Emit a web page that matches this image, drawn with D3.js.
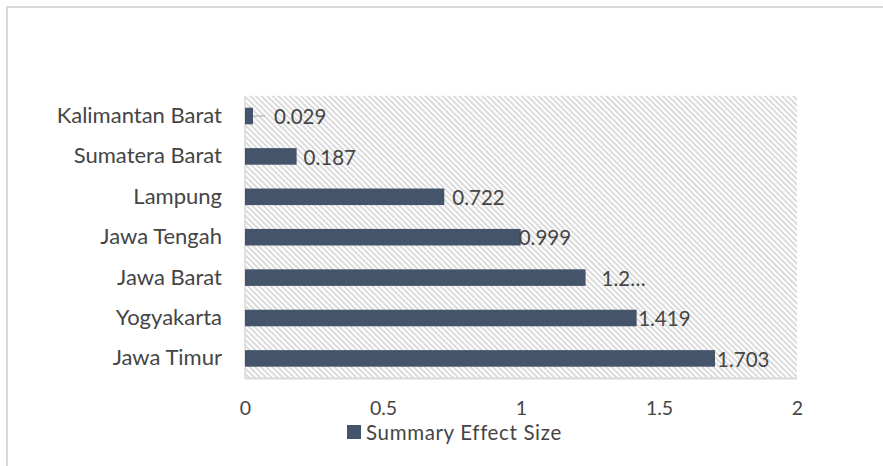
<!DOCTYPE html>
<html>
<head>
<meta charset="utf-8">
<script src="https://cdn.jsdelivr.net/npm/d3@7"></script>
<style>
  html, body { margin: 0; padding: 0; background: #fff; }
  svg { display: block; }
  text { font-family: Lato, "Noto Sans", sans-serif; fill: #454545; }
</style>
</head>
<body>
<svg id="chart" width="883" height="466"></svg>
<script>
// Regions, top to bottom as listed on the chart
const regions = ["Kalimantan Barat", "Sumatera Barat", "Lampung", "Jawa Tengah", "Jawa Barat", "Yogyakarta", "Jawa Timur"];
// Summary effect size per region
const effectSize = [0.029, 0.187, 0.722, 0.999, 1.234, 1.419, 1.703];
// Data label text shown beside each bar
const valueLabels = ["0.029", "0.187", "0.722", "0.999", "1.2…", "1.419", "1.703"];
// Axis ticks
const xTicks = [0, 0.5, 1, 1.5, 2];
const xTickLabels = ["0", "0.5", "1", "1.5", "2"];
const seriesName = "Summary Effect Size";

const svg = d3.select("#chart");
const plot = { left: 245, right: 797, top: 95.8, bottom: 378.6 };
const barColor = "#44546A";
const labelFont = "22px";
const numberFont = "20.5px";
const tickFont = "19.5px";

// Outer chart frame (only top and left edges fall inside the view)
svg.append("path")
  .attr("d", "M7,466 V7 H883")
  .attr("fill", "none")
  .attr("stroke", "#d9d9d9")
  .attr("stroke-width", 2);

const x = d3.scaleLinear().domain([0, 2]).range([plot.left, plot.right]);
const y = d3.scaleBand().domain(regions).range([plot.top, plot.bottom])
  .paddingInner(0.59).paddingOuter(0.295);

// Diagonal hatch fill for the plot area
const defs = svg.append("defs");
const pat = defs.append("pattern")
  .attr("id", "hatch")
  .attr("patternUnits", "userSpaceOnUse")
  .attr("width", 4).attr("height", 4)
  .attr("patternTransform", "rotate(-45)");
pat.append("rect").attr("width", 4).attr("height", 4).attr("fill", "#fff");
pat.append("line")
  .attr("x1", 1).attr("y1", 0).attr("x2", 1).attr("y2", 4)
  .attr("stroke", "#cfcfcf").attr("stroke-width", 1.5);

svg.append("rect")
  .attr("x", plot.left).attr("y", plot.top)
  .attr("width", plot.right - plot.left).attr("height", plot.bottom - plot.top)
  .attr("fill", "url(#hatch)");

// Plot area edges: left axis and bottom border
svg.append("line")
  .attr("x1", plot.left).attr("x2", plot.left)
  .attr("y1", plot.top).attr("y2", plot.bottom)
  .attr("stroke", "#d9d9d9").attr("stroke-width", 1.5);
svg.append("line")
  .attr("x1", plot.left).attr("x2", plot.right)
  .attr("y1", plot.bottom).attr("y2", plot.bottom)
  .attr("stroke", "#d9d9d9").attr("stroke-width", 2);

// Bars
const rows = regions.map((r, i) => ({ region: r, value: effectSize[i], label: valueLabels[i] }));
svg.append("g").selectAll("rect").data(rows).join("rect")
  .attr("x", x(0))
  .attr("y", d => y(d.region))
  .attr("width", d => x(d.value) - x(0))
  .attr("height", y.bandwidth())
  .attr("fill", barColor);

// Category labels
const yAxis = svg.append("g")
  .attr("transform", `translate(${plot.left},0)`)
  .call(d3.axisLeft(y).tickSize(0).tickPadding(23));
yAxis.select(".domain").remove();
yAxis.selectAll("text")
  .attr("dy", "0.32em")
  .style("font-size", labelFont)
  .attr("fill", "#454545");

// X axis tick labels
const xAxis = svg.append("g")
  .attr("transform", `translate(0,${plot.bottom})`)
  .call(d3.axisBottom(x).tickValues(xTicks).tickFormat((d, i) => xTickLabels[i]).tickSize(0));
xAxis.select(".domain").remove();
xAxis.selectAll("text")
  .attr("y", 36.4)
  .attr("dy", 0)
  .style("font-size", tickFont)
  .attr("fill", "#454545");

// Data labels (manually nudged in the original layout)
const labelShift = [21, 7, 8, -2, 16, 1.5, 2];
const labels = svg.append("g");
rows.forEach((d, i) => {
  const cy = y(d.region) + y.bandwidth() / 2;
  const lx = x(d.value) + labelShift[i];
  if (i === 0) {
    // leader line from the tiny bar to its displaced label
    labels.append("line")
      .attr("x1", x(d.value)).attr("x2", lx - 9)
      .attr("y1", cy).attr("y2", cy)
      .attr("stroke", "#a6a6a6").attr("stroke-width", 1);
  }
  labels.append("text")
    .attr("x", lx).attr("y", cy)
    .attr("dy", "0.4em")
    .style("font-size", numberFont)
    .text(d.label);
});

// Legend
const legend = svg.append("g").attr("transform", "translate(347,425)");
legend.append("rect").attr("width", 14).attr("height", 14).attr("fill", barColor);
legend.append("text")
  .attr("x", 19).attr("y", 14.8)
  .style("font-size", numberFont)
  .style("letter-spacing", "0.65px")
  .text(seriesName);
</script>
</body>
</html>
